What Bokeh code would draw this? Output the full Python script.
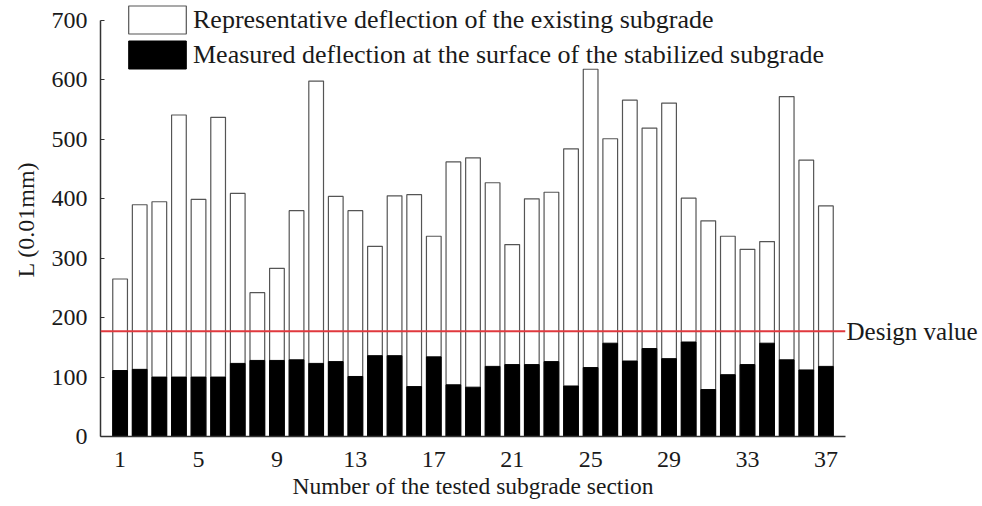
from bokeh.plotting import figure
from bokeh.models import (Range1d, FixedTicker, Span, Legend, LegendItem, LinearAxis)
from bokeh.embed import file_html
from bokeh.resources import INLINE

# ---- data ----
sections = list(range(1, 38))
representative = [265, 390, 395, 541, 399, 537, 409, 242, 283, 380, 598, 404, 380,
                  320, 405, 407, 337, 462, 469, 427, 323, 400, 411, 484, 618, 501,
                  566, 519, 561, 401, 363, 337, 315, 328, 572, 465, 388]
measured = [111, 113, 100, 100, 100, 100, 123, 128, 128, 129, 123, 126, 101,
            136, 136, 84, 134, 87, 83, 118, 121, 121, 126, 85, 116, 157,
            127, 148, 131, 159, 79, 104, 121, 157, 129, 112, 118]
design_value = 177
x_ticks = [1, 5, 9, 13, 17, 21, 25, 29, 33, 37]
y_ticks = [0, 100, 200, 300, 400, 500, 600, 700]
label_rep = "Representative deflection of the existing subgrade"
label_meas = "Measured deflection at the surface of the stabilized subgrade"
design_label = "Design value"
x_title = "Number of the tested subgrade section"
y_title = "L (0.01mm)"

FONT = "Liberation Serif"
TXT = "#1a1a1a"
Y_MAX = 700
Y_TOP = 730.3   # headroom above the axis for the legend

p = figure(width=980, height=504, output_backend="svg", toolbar_location=None,
           x_range=Range1d(0, 38), y_range=Range1d(0, Y_TOP))
p.min_border = 0
p.min_border_left = 100
p.min_border_right = 135
p.min_border_top = 2
p.min_border_bottom = 68
p.outline_line_color = None
p.grid.visible = False
p.background_fill_color = "white"
p.border_fill_color = "white"

r1 = p.vbar(x=sections, top=representative, width=0.75, bottom=0,
            fill_color="white", line_color="#555555", line_width=1.2)
r2 = p.vbar(x=sections, top=measured, width=0.75, bottom=0,
            fill_color="black", line_color="black", line_width=1)

p.add_layout(Span(location=design_value, dimension="width",
                  line_color="#e0393e", line_width=2))

# axes
xa = p.xaxis[0]
xa.ticker = FixedTicker(ticks=x_ticks)
xa.axis_line_color = "#333333"
xa.axis_line_width = 1.5
xa.major_tick_line_color = None
xa.minor_tick_line_color = None
xa.major_label_standoff = 9
xa.major_label_text_font = FONT
xa.major_label_text_font_size = "24px"
xa.major_label_text_color = TXT
xa.axis_label = x_title
xa.axis_label_standoff = 3
xa.axis_label_text_font = FONT
xa.axis_label_text_font_size = "23.5px"
xa.axis_label_text_font_style = "normal"
xa.axis_label_text_color = TXT

ya = p.yaxis[0]
ya.ticker = FixedTicker(ticks=y_ticks)
ya.bounds = (0, Y_MAX)
ya.axis_line_color = "#333333"
ya.axis_line_width = 1.5
ya.major_tick_in = 4
ya.major_tick_out = 0
ya.major_tick_line_color = "#333333"
ya.minor_tick_line_color = None
ya.major_label_standoff = 13
ya.major_label_text_font = FONT
ya.major_label_text_font_size = "24px"
ya.major_label_text_color = TXT
ya.axis_label = y_title
ya.axis_label_standoff = 10
ya.axis_label_text_font = FONT
ya.axis_label_text_font_size = "24px"
ya.axis_label_text_font_style = "normal"
ya.axis_label_text_color = TXT

# right-hand axis that carries the "Design value" tag
ra = LinearAxis(ticker=FixedTicker(ticks=[design_value]),
                major_label_overrides={design_value: design_label})
ra.axis_line_color = None
ra.major_tick_line_color = None
ra.minor_tick_line_color = None
ra.major_tick_in = 0
ra.major_tick_out = 0
ra.major_label_standoff = 1
ra.major_label_text_font = FONT
ra.major_label_text_font_size = "25px"
ra.major_label_text_color = TXT
p.add_layout(ra, "right")

legend = Legend(items=[LegendItem(label=label_rep, renderers=[r1]),
                       LegendItem(label=label_meas, renderers=[r2])],
                location=(21, 364), glyph_width=72, glyph_height=35, spacing=-2,
                label_standoff=0, padding=0, margin=0,
                border_line_alpha=0, background_fill_alpha=0,
                label_text_font=FONT, label_text_font_size="26px",
                label_text_color=TXT)
p.add_layout(legend)

open("out.html", "w").write(file_html(p, INLINE))
